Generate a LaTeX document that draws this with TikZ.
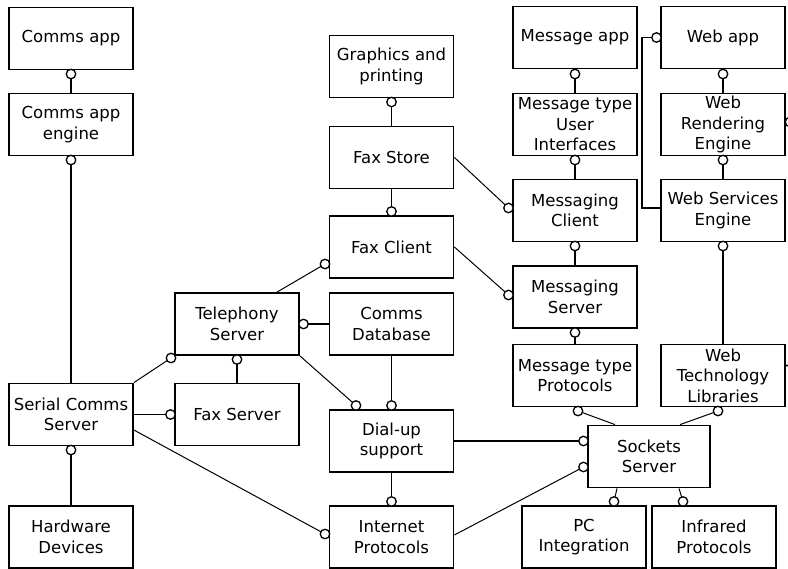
\documentclass[tikz,border=0pt]{standalone}
\usepackage{fontspec}
\setmainfont{DejaVu Sans}
\begin{document}
\begin{tikzpicture}[x=1pt,y=-1pt,
  box/.style={draw, line width=1.8pt, minimum width=124pt, minimum height=62pt,
    inner sep=0pt, align=center, font=\fontsize{16.5}{20.5}\selectfont},
  link/.style={line width=1.8pt},
  slant/.style={line width=1pt},
  ball/.style={circle, draw, fill=white, line width=1.3pt, minimum size=9.5pt, inner sep=0pt}]
\useasboundingbox (0,0) rectangle (788,569);
\clip (0,0) rectangle (788,569);

% ---- components ----
\node[box] (capp)      at (71,38.5)    {Comms app};
\node[box] (cengine)   at (71,124.5)   {Comms app\\engine};
\node[box] (serial)    at (71,414.5)   {Serial Comms\\Server};
\node[box] (hw)        at (71,537)     {Hardware\\Devices};
\node[box] (tel)       at (237,324)    {Telephony\\Server};
\node[box] (faxsrv)    at (237,414.5)  {Fax Server};
\node[box] (gfx)       at (391.5,66.5) {Graphics and\\printing};
\node[box] (faxstore)  at (391.5,157.5){Fax Store};
\node[box] (faxclient) at (391.5,247)  {Fax Client};
\node[box] (commsdb)   at (391.5,324)  {Comms\\Database};
\node[box] (dialup)    at (391.5,441)  {Dial-up\\support};
\node[box] (inet)      at (391.5,537)  {Internet\\Protocols};
\node[box] (msgapp)    at (575,37.5)   {Message app};
\node[box] (msgui)     at (575,124.5)  {Message type\\User\\Interfaces};
\node[box] (msgclient) at (575,210.5)  {Messaging\\Client};
\node[box] (msgserver) at (575,297)    {Messaging\\Server};
\node[box] (msgproto)  at (575,375.5)  {Message type\\Protocols};
\node[box] (webapp)    at (723,37.5)   {Web app};
\node[box] (webrender) at (723,124.5)  {Web\\Rendering\\Engine};
\node[box] (websvc)    at (723,210.5)  {Web Services\\Engine};
\node[box] (webtech)   at (723,375.5)  {Web\\Technology\\Libraries};
\node[box, minimum width=122pt] (sockets) at (649,456.5) {Sockets\\Server};
\node[box] (pc)        at (584,537)    {PC\\Integration};
\node[box] (ir)        at (714,537)    {Infrared\\Protocols};

% ---- interface points ----
\coordinate (b1)  at (71,74);
\coordinate (b2)  at (71,160);
\coordinate (b3)  at (71,450);
\coordinate (b4)  at (171,358);
\coordinate (b5)  at (237,359.5);
\coordinate (b6)  at (170.5,414.5);
\coordinate (b7)  at (303.5,324);
\coordinate (b8)  at (325,264);
\coordinate (b9)  at (356,405.5);
\coordinate (b10) at (391.5,405.5);
\coordinate (b11) at (391.5,102);
\coordinate (b12) at (391.5,211.5);
\coordinate (b13) at (508.5,208);
\coordinate (b14) at (508.5,295);
\coordinate (b15) at (575,74);
\coordinate (b16) at (575,160);
\coordinate (b17) at (575,246);
\coordinate (b18) at (575,332.5);
\coordinate (b19) at (723,74);
\coordinate (b20) at (723,160);
\coordinate (b21) at (723,246);
\coordinate (b22) at (656.5,37.5);
\coordinate (b23) at (578,411);
\coordinate (b24) at (718,411);
\coordinate (b25) at (583.5,441);
\coordinate (b26) at (583.5,467);
\coordinate (b27) at (614,501.5);
\coordinate (b28) at (683,501.5);
\coordinate (b29) at (325,534);
\coordinate (b30) at (391.5,501.5);
\coordinate (b31) at (790,122);
\coordinate (stub) at (800,365);

% ---- connectors ----
\draw[link] (capp.south) -- (cengine.north);
\draw[link] (cengine.south) -- (serial.north);
\draw[link] (serial.south) -- (hw.north);
\draw[slant] (serial.north east) -- (b4);
\draw[link] (tel.south) -- (faxsrv.north);
\draw[link] (serial.east) -- (faxsrv.west);
\draw[link] (tel.east) -- (commsdb.west);
\draw[slant] ([xshift=40pt]tel.north) -- (b8);
\draw[slant] (tel.south east) -- (b9);
\draw[link] (commsdb.south) -- (dialup.north);
\draw[link] (gfx.south) -- (faxstore.north);
\draw[link] (faxstore.south) -- (faxclient.north);
\draw[slant] (faxstore.east) -- (b13);
\draw[slant] (faxclient.east) -- (b14);
\draw[link] (msgapp.south) -- (msgui.north);
\draw[link] (msgui.south) -- (msgclient.north);
\draw[link] (msgclient.south) -- (msgserver.north);
\draw[link] (msgserver.south) -- (msgproto.north);
\draw[link] (webapp.south) -- (webrender.north);
\draw[link] (webrender.south) -- (websvc.north);
\draw[link] (websvc.south) -- (webtech.north);
\draw[link] ([yshift=2.5pt]websvc.west) -- ++(-18,0) |- (b22);
\draw[slant] (b23) -- ([xshift=-34pt]sockets.north);
\draw[slant] (b24) -- ([xshift=31pt]sockets.north);
\draw[link] (dialup.east) -- (b25);
\draw[slant] ([yshift=2pt]inet.east) -- (b26);
\draw[slant] ([xshift=-32pt]sockets.south) -- (b27);
\draw[slant] ([xshift=30pt]sockets.south) -- (b28);
\draw[slant] ([yshift=-15.5pt]serial.east) -- (b29);
\draw[link] (dialup.south) -- (inet.north);
\draw[link] ([yshift=10pt]webtech.east) -- (stub);

% ---- interface balls ----
\foreach \b in {b1,b2,b3,b4,b5,b6,b7,b8,b9,b10,b11,b12,b13,b14,b15,b16,b17,b18,
  b19,b20,b21,b22,b23,b24,b25,b26,b27,b28,b29,b30,b31}
  \node[ball] at (\b) {};
\end{tikzpicture}
\end{document}
